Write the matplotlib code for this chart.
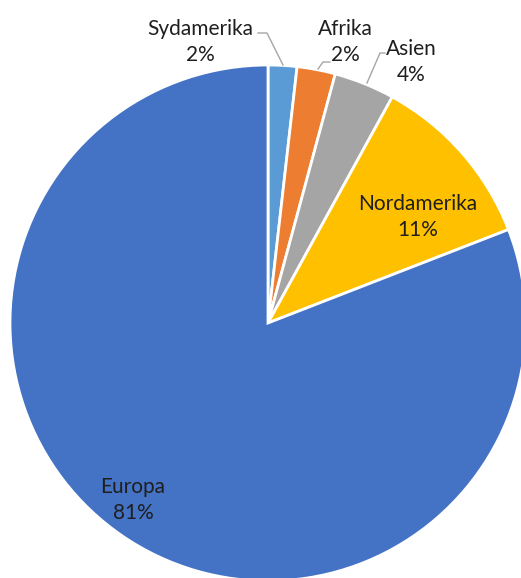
import matplotlib
matplotlib.use("Agg")
import matplotlib.pyplot as plt

categories = ["Sydamerika", "Afrika", "Asien", "Nordamerika", "Europa"]
values = [1.8, 2.4, 3.8, 11.1, 80.9]
pct_labels = ["2%", "2%", "4%", "11%", "81%"]
colors = ["#5B9BD5", "#ED7D31", "#A5A5A5", "#FFC000", "#4472C4"]

W, H = 521, 578
fig = plt.figure(figsize=(W / 100, H / 100), dpi=100)
ax = fig.add_axes([0, 0, 1, 1])

def py(y):
    return H - y

cx, cy, r = 268, py(323), 258
ax.pie(values, colors=colors, startangle=90, counterclock=False,
       center=(cx, cy), radius=r,
       wedgeprops=dict(edgecolor="white", linewidth=2))
ax.set_xlim(0, W)
ax.set_ylim(0, H)
ax.set_aspect("equal")
ax.axis("off")

font = dict(family="Lato", fontsize=15, color="#1f1f1f", ha="center", va="center",
            linespacing=1.4)

# label positions (pixel coords, top-left origin)
label_pos = {
    "Sydamerika": (200, 42),
    "Afrika": (345, 42),
    "Asien": (411, 62),
    "Nordamerika": (418, 217),
    "Europa": (133, 500),
}
for cat, pct in zip(categories, pct_labels):
    x, y = label_pos[cat]
    ax.text(x, py(y), f"{cat}\n{pct}", **font)

lc = "#A6A6A6"
leaders = [
    [(258, 33), (267, 33), (283, 65)],
    [(330, 62), (323, 62), (318, 69)],
    [(385, 53), (380, 53), (367, 83)],
]
for seg in leaders:
    xs = [p[0] for p in seg]
    ys = [py(p[1]) for p in seg]
    ax.plot(xs, ys, color=lc, lw=1)

fig.savefig("out.png", dpi=100)
